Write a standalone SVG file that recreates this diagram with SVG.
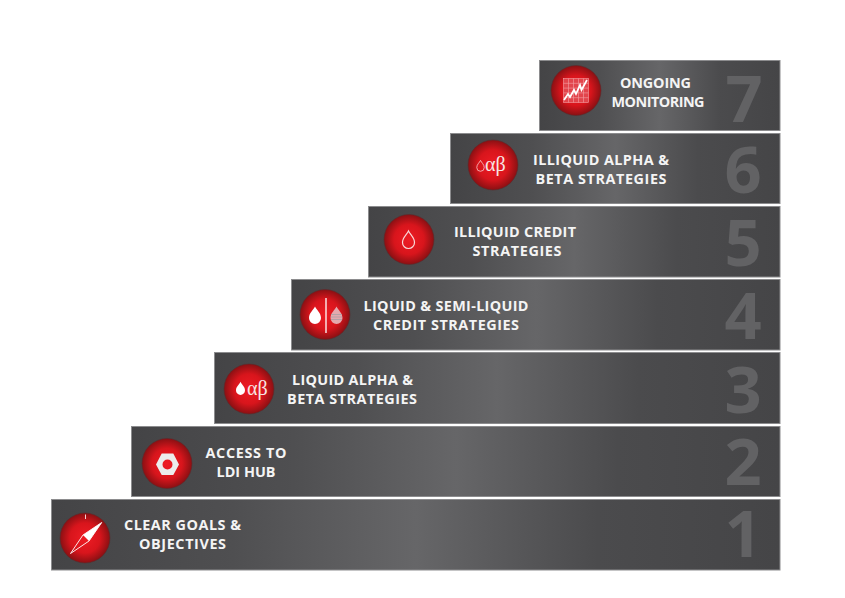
<svg xmlns="http://www.w3.org/2000/svg" width="845" height="598" viewBox="0 0 845 598">
<style>
.bar{fill:url(#barG);stroke:#8c8c8e;stroke-width:1}
.ring{fill:url(#redG);stroke:#5a2a2c;stroke-width:.6}
.t{font-family:"Open Sans","DejaVu Sans",sans-serif;font-weight:700;font-size:14.4px;fill:#f4f4f4;text-anchor:middle}
.n{font-family:"Open Sans","DejaVu Sans",sans-serif;font-weight:700;font-size:65px;fill:#626264;text-anchor:middle}
.g{font-family:"Liberation Serif",serif;font-size:20px;fill:#f6e6e6}
.w{fill:#fff}
.o{fill:none;stroke:#f8d8d8;stroke-width:1.2}
</style>
<defs>
<linearGradient id="barG" x1="0" y1="0" x2="1" y2="0">
<stop offset="0" stop-color="#444446"/>
<stop offset=".25" stop-color="#4f4f51"/>
<stop offset=".5" stop-color="#666668"/>
<stop offset=".75" stop-color="#4b4b4d"/>
<stop offset="1" stop-color="#454547"/>
</linearGradient>
<radialGradient id="redG" cx=".5" cy=".5" r=".5">
<stop offset="0" stop-color="#ee1c24"/>
<stop offset=".6" stop-color="#d8151c"/>
<stop offset="1" stop-color="#8a1013"/>
</radialGradient>
<path id="drop" d="M0-9C1.500-5.500 6-2.500 6 2.500A6 6 0 0 1-6 2.500C-6-2.500-1.500-5.500 0-9Z"/>
</defs>
<g id="step-7">
<rect class="bar" x="539.500" y="60.500" width="240.500" height="70"/>
<circle class="ring" cx="576" cy="90.500" r="25"/>
<g stroke="#f3a0a4" stroke-width=".6" fill="#e2454c">
<rect x="563.500" y="78.500" width="25" height="24"/>
<path d="M563.500 83.300H588.500M563.500 88.100H588.500M563.500 92.900H588.500M563.500 97.700H588.500M568.500 78.500V102.500M573.500 78.500V102.500M578.500 78.500V102.500M583.500 78.500V102.500" fill="none"/>
</g>
<path d="M564 100L568 94L570 97L574 90L576 94L580 85L581.500 90L587 80" fill="none" stroke="#fff" stroke-width="1.800"/>
<text class="t" x="655.500" y="88" textLength="71">ONGOING</text>
<text class="t" x="658" y="106.500" textLength="93">MONITORING</text>
<text class="n" x="744" y="122">7</text>
</g>
<g id="step-6">
<rect class="bar" x="450.500" y="133.500" width="329.500" height="70"/>
<circle class="ring" cx="493" cy="165" r="25"/>
<use href="#drop" class="o" transform="translate(480.500 166) scale(.62)"/>
<text class="g" x="485" y="171">αβ</text>
<text class="t" x="601" y="165" textLength="136">ILLIQUID ALPHA &amp;</text>
<text class="t" x="601" y="184" textLength="131">BETA STRATEGIES</text>
<text class="n" x="743" y="193">6</text>
</g>
<g id="step-5">
<rect class="bar" x="368.500" y="206.500" width="411.500" height="70.500"/>
<circle class="ring" cx="409" cy="239.500" r="25"/>
<use href="#drop" class="o" transform="translate(408.500 240)"/>
<text class="t" x="515" y="237" textLength="122">ILLIQUID CREDIT</text>
<text class="t" x="517" y="255.500" textLength="89">STRATEGIES</text>
<text class="n" x="743" y="266">5</text>
</g>
<g id="step-4">
<rect class="bar" x="291.500" y="279.500" width="488.500" height="70.500"/>
<circle class="ring" cx="325" cy="314.500" r="25"/>
<use href="#drop" class="w" transform="translate(315 315.500)"/>
<path d="M326 298V333" stroke="#fff" stroke-width="1.300"/>
<use href="#drop" fill="#e4a9ae" transform="translate(336.500 315.500)"/>
<path d="M331 314.500H342M331 317H342M331 319.500H342" stroke="#a9a0a4" stroke-width=".8"/>
<text class="t" x="446" y="311" textLength="165">LIQUID &amp; SEMI-LIQUID</text>
<text class="t" x="446" y="329.500" textLength="146">CREDIT STRATEGIES</text>
<text class="n" x="743" y="339">4</text>
</g>
<g id="step-3">
<rect class="bar" x="214.500" y="352.500" width="565.500" height="71"/>
<circle class="ring" cx="249" cy="389" r="25"/>
<use href="#drop" class="w" transform="translate(240.500 388.500) scale(.75)"/>
<text class="g" x="247" y="394.500">αβ</text>
<text class="t" x="352.500" y="385" textLength="121">LIQUID ALPHA &amp;</text>
<text class="t" x="352" y="404" textLength="130">BETA STRATEGIES</text>
<text class="n" x="743" y="413">3</text>
</g>
<g id="step-2">
<rect class="bar" x="131.500" y="426.500" width="648.500" height="70"/>
<circle class="ring" cx="167" cy="463.500" r="25"/>
<path d="M156 464.500L161.700 453.500H173.300L179 464.500L173.300 475H161.700ZM167.500 459.500A5 5 0 1 0 167.500 469.500A5 5 0 1 0 167.500 459.500Z" fill="#ececec" fill-rule="evenodd"/>
<text class="t" x="246" y="458" textLength="81">ACCESS TO</text>
<text class="t" x="246" y="477" textLength="59">LDI HUB</text>
<text class="n" x="743" y="485">2</text>
</g>
<g id="step-1">
<rect class="bar" x="51.500" y="499.500" width="728.500" height="70.500"/>
<circle class="ring" cx="85" cy="538" r="25"/>
<path d="M85.500 514.500V519" stroke="#f4d0d0" stroke-width="1"/>
<path d="M101.700 522.500L89 541L70.500 553.500L83 535Z" fill="none" stroke="#fff" stroke-width=".9"/>
<path d="M101.700 522.500L89 541L83 535Z" fill="#fff"/>
<text class="t" x="182.500" y="530" textLength="117">CLEAR GOALS &amp;</text>
<text class="t" x="182.500" y="549" textLength="87">OBJECTIVES</text>
<text class="n" x="743" y="557">1</text>
</g>
</svg>
